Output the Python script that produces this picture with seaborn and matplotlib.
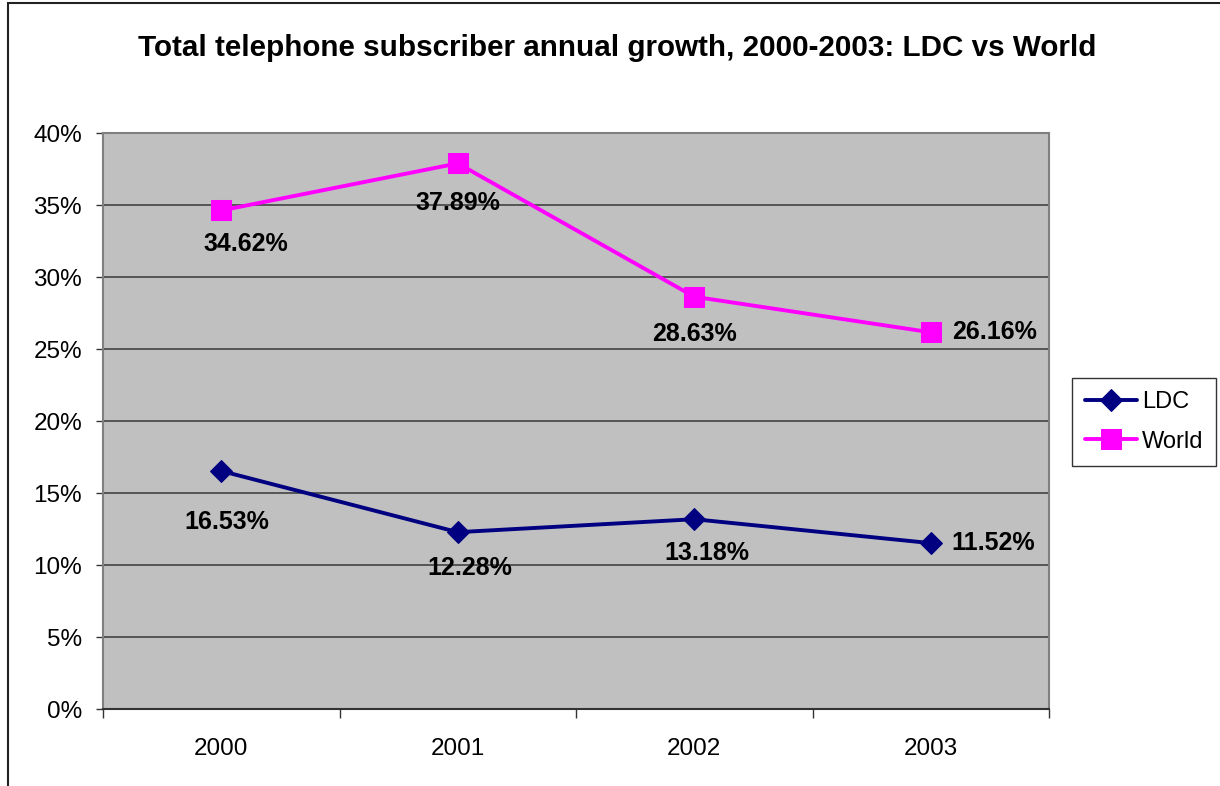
import numpy as np
import pandas as pd
import matplotlib
matplotlib.use("Agg")
import matplotlib.pyplot as plt
from matplotlib.patches import Rectangle
from matplotlib.ticker import FixedLocator, FuncFormatter
import seaborn as sns

# Annual growth of total telephone subscribers (%)
years = ["2000", "2001", "2002", "2003"]
ldc_growth = [16.53, 12.28, 13.18, 11.52]
world_growth = [34.62, 37.89, 28.63, 26.16]
y_ticks = [0, 5, 10, 15, 20, 25, 30, 35, 40]

sns.set_style("white")
plt.rcParams["font.family"] = ["Liberation Sans", "DejaVu Sans"]
plt.rcParams["text.color"] = "black"
plt.rcParams["xtick.labelcolor"] = "black"
plt.rcParams["ytick.labelcolor"] = "black"

W, H = 1220, 786
fig = plt.figure(figsize=(W / 100, H / 100), dpi=100)
ax = fig.add_axes([103 / W, 1 - 709 / H, (1049 - 103) / W, (709 - 133) / H])

pos = np.arange(len(years))
df = pd.DataFrame({"pos": np.concatenate([pos, pos]),
                   "growth": ldc_growth + world_growth,
                   "series": ["LDC"] * len(years) + ["World"] * len(years)})

navy, magenta = "#000080", "#FF00FF"
sns.lineplot(data=df[df.series == "LDC"], x="pos", y="growth", ax=ax,
             color=navy, linewidth=2.8, marker="D", markersize=11,
             markeredgecolor=navy, label="LDC", zorder=4)
sns.lineplot(data=df[df.series == "World"], x="pos", y="growth", ax=ax,
             color=magenta, linewidth=2.8, marker="s", markersize=14,
             markeredgecolor=magenta, label="World", zorder=4)

# Data labels: offsets in pixels from each point (right / up)
ldc_off = [(6, -51), (12, -36), (13, -34), None]
world_off = [(25, -34), (0, -40), (0, -37), None]
for vals, offs in ((ldc_growth, ldc_off), (world_growth, world_off)):
    for i, (v, off) in enumerate(zip(vals, offs)):
        if off is None:
            ax.annotate(f"{v:.2f}%", (pos[i], v), xytext=(21, 0),
                        textcoords="offset pixels", ha="left", va="center",
                        fontsize=18, fontweight="bold", color="black", zorder=5)
        else:
            ax.annotate(f"{v:.2f}%", (pos[i], v), xytext=off,
                        textcoords="offset pixels", ha="center", va="center",
                        fontsize=18, fontweight="bold", color="black", zorder=5)

ax.set_facecolor("#C0C0C0")
ax.set_xlim(-0.5, len(years) - 0.5)
ax.set_ylim(0, 40)
ax.set_xlabel("")
ax.set_ylabel("")

ax.yaxis.set_major_locator(FixedLocator(y_ticks))
ax.yaxis.set_major_formatter(FuncFormatter(lambda v, p: f"{v:.0f}%"))
ax.yaxis.grid(True, color="#555555", linewidth=1.4)
ax.set_axisbelow(True)
ax.tick_params(axis="y", which="major", left=True, length=5, width=1,
               color="#333333", pad=10, labelsize=17.5, labelcolor="black")

ax.set_xticks(pos)
ax.set_xticklabels(years)
ax.set_xticks(np.arange(-0.5, len(years)), minor=True)
ax.tick_params(axis="x", which="major", length=0, pad=21, labelsize=17.5,
               labelcolor="black")
ax.tick_params(axis="x", which="minor", bottom=True, length=6.5, width=1,
               color="#333333")

for side in ("left", "right", "top"):
    ax.spines[side].set_color("#808080")
    ax.spines[side].set_linewidth(1.5)
ax.spines["bottom"].set_color("#333333")
ax.spines["bottom"].set_linewidth(1.5)

fig.text(617 / W, 1 - 48 / H,
         "Total telephone subscriber annual growth, 2000-2003: LDC vs World",
         ha="center", va="center", fontsize=21.3, fontweight="bold",
         color="black")

leg = ax.legend(loc="upper left", bbox_to_anchor=(1072 / W, 1 - 378 / H),
                bbox_transform=fig.transFigure, fontsize=17, frameon=True,
                fancybox=False, handlelength=2.2, handletextpad=0.2,
                labelspacing=0.75, borderpad=0.55, borderaxespad=0)
leg.get_frame().set_edgecolor("black")
leg.get_frame().set_linewidth(1)
leg.get_frame().set_facecolor("white")
for t in leg.get_texts():
    t.set_color("black")

# Outer chart frame
fig.patches.append(Rectangle((8 / W, -0.2), 2.0, (H - 3) / H + 0.2,
                             transform=fig.transFigure, fill=False,
                             edgecolor="#222222", linewidth=1.5))

fig.savefig("out.png", dpi=100)
